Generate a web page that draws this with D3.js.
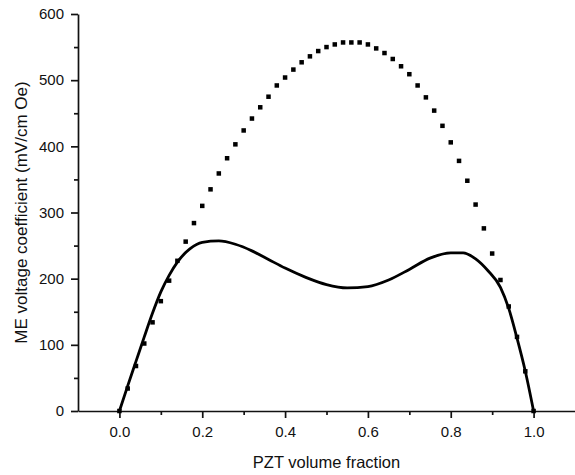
<!DOCTYPE html>
<html>
<head>
<meta charset="utf-8">
<script src="https://cdn.jsdelivr.net/npm/d3@7"></script>
<style>
    body { margin: 0; background: #fff; }
    #chart { width: 575px; height: 475px; }
    text { font-family: "Liberation Sans", Arial, sans-serif; fill: #111; }
</style>
</head>
<body>
<div id="chart"></div>
<script>
// dotted series (square markers every 0.02)
const dotFraction = [0, 0.02, 0.04, 0.06, 0.08, 0.10, 0.12, 0.14, 0.16, 0.18, 0.20, 0.22, 0.24, 0.26, 0.28, 0.30,
    0.32, 0.34, 0.36, 0.38, 0.40, 0.42, 0.44, 0.46, 0.48, 0.50, 0.52, 0.54, 0.56, 0.58, 0.60, 0.62, 0.64, 0.66,
    0.68, 0.70, 0.72, 0.74, 0.76, 0.78, 0.80, 0.82, 0.84, 0.86, 0.88, 0.90, 0.92, 0.94, 0.96, 0.98, 1.00];
const dotValues = [0, 34, 68, 102, 134, 166, 197, 227, 256, 284, 310, 335, 359, 382, 403, 424,
    442, 459, 475, 492, 504, 516, 527, 536, 544, 550, 554, 557, 557, 557, 554, 548, 541, 532,
    521, 509, 492, 474, 454, 431, 406, 378, 348, 312, 276, 238, 198, 158, 112, 60, 0];

// solid series
const lineFraction = [0, 0.02, 0.04, 0.06, 0.08, 0.10, 0.12, 0.14, 0.17, 0.20, 0.24, 0.28, 0.32, 0.36, 0.40,
    0.45, 0.50, 0.55, 0.60, 0.65, 0.70, 0.75, 0.80, 0.83, 0.86, 0.89, 0.92, 0.94, 0.96, 0.98, 1.00];
const lineValues = [0, 38, 75, 112, 148, 180, 205, 225, 245, 255, 257, 252, 242, 229, 216,
    202, 191, 186, 188, 198, 214, 231, 239, 239, 230, 212, 187, 155, 110, 60, 0];

const xTicks = [0, 0.2, 0.4, 0.6, 0.8, 1.0];
const xMinor = [0.1, 0.3, 0.5, 0.7, 0.9];
const yTicks = [0, 100, 200, 300, 400, 500, 600];
const yMinor = [50, 150, 250, 350, 450, 550];

class FractionChart {

    constructor(parentElement) {
        this.parentElement = parentElement;
        this.initVis();
    }

    initVis() {
        let vis = this;

        vis.margin = {top: 14, right: 0, bottom: 64, left: 78};
        vis.width = 575 - vis.margin.left - vis.margin.right;
        vis.height = 475 - vis.margin.top - vis.margin.bottom;

        vis.svg = d3.select("#" + vis.parentElement)
            .append("svg")
            .attr("width", 575)
            .attr("height", 475)
            .append("g")
            .attr("transform", `translate(${vis.margin.left}, ${vis.margin.top})`);

        vis.x = d3.scaleLinear().domain([-0.1, 1.1]).range([0, vis.width]);
        vis.y = d3.scaleLinear().domain([0, 600]).range([vis.height, 0]);

        // minor ticks first, then the major axes on top
        vis.svg.append("g")
            .attr("transform", `translate(0, ${vis.height})`)
            .call(d3.axisBottom(vis.x).tickValues(xMinor).tickSize(4).tickFormat(""))
            .call(g => g.select(".domain").remove());

        vis.svg.append("g")
            .call(d3.axisLeft(vis.y).tickValues(yMinor).tickSize(4).tickFormat(""))
            .call(g => g.select(".domain").remove());

        vis.xAxis = vis.svg.append("g")
            .attr("transform", `translate(0, ${vis.height})`)
            .call(d3.axisBottom(vis.x).tickValues(xTicks).tickSize(7).tickSizeOuter(0).tickPadding(8)
                .tickFormat(d3.format(".1f")));

        vis.yAxis = vis.svg.append("g")
            .call(d3.axisLeft(vis.y).tickValues(yTicks).tickSize(7).tickSizeOuter(0).tickPadding(7));

        vis.svg.selectAll(".tick line").attr("stroke", "#111").attr("stroke-width", 1.7);
        vis.svg.selectAll(".domain").attr("stroke", "#111").attr("stroke-width", 1.7);
        vis.svg.selectAll(".tick text")
            .attr("font-size", "15px")
            .attr("fill", "#111")
            .style("font-family", "'Liberation Sans', Arial, sans-serif");

        // axis titles
        vis.svg.append("text")
            .attr("x", vis.x(0.5))
            .attr("y", vis.height + 57)
            .attr("text-anchor", "middle")
            .attr("font-size", "16.5px")
            .text("PZT volume fraction");

        vis.svg.append("text")
            .attr("transform", `translate(${27 - vis.margin.left}, ${vis.height / 2}) rotate(-90)`)
            .attr("text-anchor", "middle")
            .attr("font-size", "17px")
            .text("ME voltage coefficient (mV/cm Oe)");

        // solid curve
        let lineData = lineFraction.map((f, i) => ({f: f, v: lineValues[i]}));

        vis.line = d3.line()
            .x(d => vis.x(d.f))
            .y(d => vis.y(d.v))
            .curve(d3.curveMonotoneX);

        vis.svg.append("path")
            .datum(lineData)
            .attr("d", vis.line)
            .attr("fill", "none")
            .attr("stroke", "#000")
            .attr("stroke-width", 2.8);

        // square markers
        let dotData = dotFraction.map((f, i) => ({f: f, v: dotValues[i]}));
        let s = 4.5;

        vis.svg.selectAll("rect.dot")
            .data(dotData)
            .enter()
            .append("rect")
            .attr("class", "dot")
            .attr("x", d => vis.x(d.f) - s / 2)
            .attr("y", d => vis.y(d.v) - s / 2)
            .attr("width", s)
            .attr("height", s)
            .attr("fill", "#000");
    }
}

new FractionChart("chart");
</script>
</body>
</html>
